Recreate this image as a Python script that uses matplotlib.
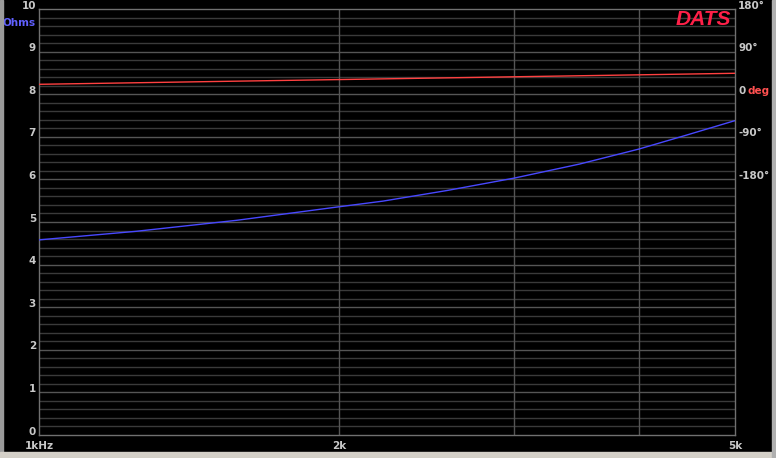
import matplotlib
matplotlib.use("Agg")
import matplotlib.pyplot as plt
import matplotlib.transforms as mtransforms
from matplotlib.patches import Rectangle
import numpy as np

# ---- data ----
freq_hz = [1000, 1250, 1580, 1990, 2215, 2570, 3000, 3490, 4000, 4470, 5000]
impedance_ohm = [4.58, 4.78, 5.04, 5.35, 5.49, 5.74, 6.03, 6.36, 6.71, 7.04, 7.38]
phase_freq_hz = [1000, 1500, 2000, 3000, 4000, 5000]
phase_deg = [20.9, 26.8, 30.9, 36.8, 40.9, 44.2]

x_ticks = [1000, 2000, 5000]
x_tick_labels = ["1kHz", "2k", "5k"]
x_grid = [2000, 3000, 4000]
y_ticks = [0, 1, 2, 3, 4, 5, 6, 7, 8, 9, 10]
phase_ticks = [180, 90, 0, -90, -180]
phase_tick_labels = ["180°", "90°", "0", "-90°", "-180°"]

W, H = 776, 458
fig = plt.figure(figsize=(W / 100, H / 100), dpi=100, facecolor="black")
L, R, T, B = 39, 735, 9, 435
ax = fig.add_axes([L / W, (H - B) / H, (R - L) / W, (B - T) / H])
ax.set_facecolor("black")
ax.set_xscale("log")
ax.set_xlim(1000, 5000)
ax.set_ylim(0, 10)

minor_c = "#3a3a3a"
major_c = "#555555"
for v in np.arange(0.2, 10, 0.2):
    is_major = abs(v - round(v)) < 1e-6
    ax.axhline(v, color=major_c if is_major else minor_c, lw=1.0, zorder=1)
for xv in x_grid:
    ax.axvline(xv, color=major_c, lw=1.0, zorder=1)
for s in ax.spines.values():
    s.set_color("#707070")
    s.set_linewidth(1.0)
ax.xaxis.set_major_locator(matplotlib.ticker.NullLocator())
ax.xaxis.set_minor_locator(matplotlib.ticker.NullLocator())
ax.yaxis.set_major_locator(matplotlib.ticker.NullLocator())
ax.yaxis.set_minor_locator(matplotlib.ticker.NullLocator())

# impedance
ax.plot(freq_hz, impedance_ohm, color="#4848ff", lw=1.0, zorder=3)

# phase on the same pixel scale: y_ohm = 8 + deg/90
ax2 = ax.twinx()
ax2.set_ylim(-720, 180)
ax2.yaxis.set_major_locator(matplotlib.ticker.NullLocator())
ax2.yaxis.set_minor_locator(matplotlib.ticker.NullLocator())
for s in ax2.spines.values():
    s.set_visible(False)
ax2.plot(phase_freq_hz, phase_deg, color="#ff4040", lw=1.0, zorder=3)

lab_c = "#c8c8c8"
fs = 7.5
up = mtransforms.ScaledTranslation(0, 2.5 / 72, fig.dpi_scale_trans)

# left labels
tl = mtransforms.blended_transform_factory(ax.transAxes, ax.transData)
for v in y_ticks:
    ax.text(-3 / (R - L), v, str(v), transform=tl + up, ha="right", va="center",
            color=lab_c, fontsize=fs, fontweight="bold", clip_on=False)
ax.text(-3 / (R - L), 10, "Ohms", transform=tl + mtransforms.ScaledTranslation(0, -10 / 72, fig.dpi_scale_trans),
        ha="right", va="center", color="#6060ff", fontsize=fs, fontweight="bold", clip_on=False)

# right labels
tr = mtransforms.blended_transform_factory(ax2.transAxes, ax2.transData)
for v, lab in zip(phase_ticks, phase_tick_labels):
    ax2.text(1 + 3 / (R - L), v, lab, transform=tr + up, ha="left", va="center",
             color=lab_c, fontsize=fs, fontweight="bold", clip_on=False)
ax2.text(1 + 12 / (R - L), 0, "deg", transform=tr + up, ha="left", va="center",
         color="#ff5050", fontsize=fs, fontweight="bold", clip_on=False)

# x labels
tx = mtransforms.blended_transform_factory(ax.transData, ax.transAxes)
for v, lab in zip(x_ticks, x_tick_labels):
    ax.text(v, -11 / (B - T), lab, transform=tx, ha="center", va="center",
            color=lab_c, fontsize=fs, fontweight="bold", clip_on=False)

# DATS logo
ax.text(1 - 4 / (R - L), 1 - 10 / (B - T), "DATS", transform=ax.transAxes, ha="right", va="center",
        color="#ff2048", fontsize=15, fontweight="bold", fontstyle="italic",
        family="Liberation Sans", zorder=5)

# window frame bits
def frect(x0, y0, x1, y1, c):
    fig.patches.append(Rectangle((x0 / W, 1 - y1 / H), (x1 - x0) / W, (y1 - y0) / H,
                                 transform=fig.transFigure, color=c, zorder=0, figure=fig))

frect(0, 0, 3, H, "#9a9a9a")
frect(0, 452, W, H, "#d4d0c8")
frect(772, 0, W, H, "#b0b0b0")

fig.savefig("out.png", dpi=100, facecolor="black")
